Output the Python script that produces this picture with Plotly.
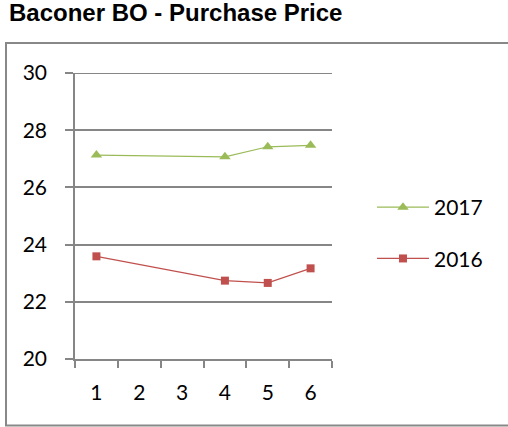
import plotly.graph_objects as go

categories = ["1", "2", "3", "4", "5", "6"]
values_2017 = [27.13, None, None, 27.07, 27.42, 27.47]
values_2016 = [23.59, None, None, 22.74, 22.66, 23.17]
y_ticks = [20, 22, 24, 26, 28, 30]

W, H = 508, 427
L, R, T, B = 75, 332, 73, 359  # plot area pixels

def px_x(p):
    return (p - L) / (R - L)

def px_y(p):
    return (B - p) / (B - T)

fig = go.Figure()
fig.add_trace(go.Scatter(
    x=categories, y=values_2017, name="2017", mode="lines+markers",
    connectgaps=True, legendgroup="a",
    line=dict(color="#9BBB59", width=1.2),
    marker=dict(symbol="triangle-up", size=10, color="#9BBB59"),
))
fig.add_trace(go.Scatter(
    x=categories, y=values_2016, name="2016", mode="lines+markers",
    connectgaps=True, legendgroup="b",
    line=dict(color="#C0504D", width=1.2),
    marker=dict(symbol="square", size=8, color="#C0504D"),
))

axis_color = "#868686"
tick_font = dict(family="Lato, 'Open Sans', sans-serif", size=21, color="#000000")
legend_font = dict(family="Lato, 'Open Sans', sans-serif", size=21, color="#000000")

fig.update_layout(
    width=W, height=H,
    margin=dict(l=L, r=W - R, t=T, b=H - B, pad=0),
    paper_bgcolor="white", plot_bgcolor="white",
    title=dict(
        text="<b>Baconer BO - Purchase Price</b>",
        font=dict(family="Liberation Sans, Arial, sans-serif", size=24, color="#000000"),
        x=9 / W, xanchor="left", xref="container",
        y=1 - 13 / H, yanchor="middle", yref="container",
    ),
    xaxis=dict(
        type="category", categoryorder="array", categoryarray=categories,
        range=[-0.5, 5.5],
        showline=True, linecolor=axis_color, linewidth=1.5,
        ticks="outside", tickson="boundaries", ticklen=7, tickcolor=axis_color, tickwidth=1.5,
        showgrid=False, tickfont=tick_font, ticklabelstandoff=14,
        zeroline=False,
    ),
    yaxis=dict(
        range=[20, 30], tickvals=y_ticks,
        showline=True, linecolor=axis_color, linewidth=1.5,
        ticks="outside", ticklen=8, tickcolor=axis_color, tickwidth=1.5,
        showgrid=True, gridcolor=axis_color, gridwidth=1.5,
        tickfont=tick_font, ticklabelstandoff=14, zeroline=False,
    ),
    legend=dict(
        x=px_x(372), y=px_y(187), xanchor="left", yanchor="top",
        font=legend_font, tracegroupgap=21, traceorder="grouped",
        itemwidth=52, bgcolor="rgba(0,0,0,0)",
    ),
    showlegend=True,
)

# top gridline (at the edge of the plot area)
fig.add_shape(
    type="line", xref="paper", yref="y",
    x0=0, x1=1, y0=y_ticks[-1], y1=y_ticks[-1],
    line=dict(color=axis_color, width=2), layer="below",
)

fig.add_shape(
    type="rect", xref="paper", yref="paper",
    x0=px_x(6), x1=px_x(512), y0=px_y(425.5), y1=px_y(43),
    line=dict(color="#888888", width=2), fillcolor="rgba(0,0,0,0)", layer="below",
)

fig.write_html("out.html", config={"displayModeBar": False},
               post_script="document.body.style.margin='0';")
